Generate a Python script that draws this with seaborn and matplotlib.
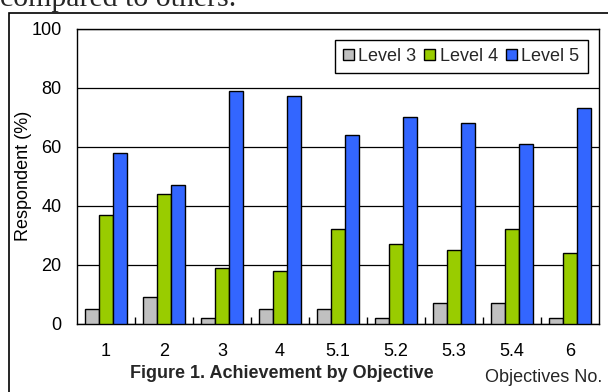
import matplotlib
matplotlib.use("Agg")
import matplotlib.pyplot as plt
import seaborn as sns
import pandas as pd
from matplotlib.patches import Rectangle

# Survey results: share of respondents per achievement level, by objective
objectives = ["1", "2", "3", "4", "5.1", "5.2", "5.3", "5.4", "6"]
level3 = [5, 9, 2, 5, 5, 2, 7, 7, 2]
level4 = [37, 44, 19, 18, 32, 27, 25, 32, 24]
level5 = [58, 47, 79, 77, 64, 70, 68, 61, 73]
levels = ["Level 3", "Level 4", "Level 5"]
colors = ["#c0c0c0", "#99cc00", "#3366ff"]
y_ticks = [0, 20, 40, 60, 80, 100]

rows = []
for name, vals in zip(levels, [level3, level4, level5]):
    for obj, v in zip(objectives, vals):
        rows.append({"Objective": obj, "Level": name, "Respondent": v})
df = pd.DataFrame(rows)

sns.set_theme(style="white")
plt.rcParams["font.family"] = ["Liberation Sans", "DejaVu Sans"]

fig = plt.figure(figsize=(6.08, 3.92), dpi=100)
ax = fig.add_axes([77 / 608, 1 - 324 / 392, 522 / 608, 295.5 / 392])

sns.barplot(data=df, x="Objective", y="Respondent", hue="Level",
            order=objectives, hue_order=levels, palette=colors,
            width=0.72, edgecolor="black", linewidth=1.0,
            saturation=1, errorbar=None, ax=ax, zorder=3)

ax.set_ylim(0, 100)
ax.set_xlim(-0.5, len(objectives) - 0.5)
ax.set_yticks(y_ticks)
ax.yaxis.grid(True, color="black", linewidth=0.9, zorder=0)
ax.set_axisbelow(True)
for s in ax.spines.values():
    s.set_visible(True)
    s.set_color("black")
    s.set_linewidth(1.0)

ax.tick_params(axis="y", length=0, pad=11, labelsize=13, labelcolor="black")
ax.tick_params(axis="x", which="major", length=0, pad=13.5, labelsize=13,
               labelcolor="black")
ax.set_xticks([i + 0.5 for i in range(len(objectives) - 1)], minor=True)
ax.tick_params(axis="x", which="minor", direction="in", length=5,
               width=1, color="black", bottom=True)

ax.set_xlabel("")
ax.set_ylabel("Respondent (%)", fontsize=13, color="black")
ax.yaxis.set_label_coords(-0.086, 0.5)

leg = ax.legend(loc="upper right", bbox_to_anchor=(0.978, 0.962), ncol=3,
                fontsize=13, frameon=True, fancybox=False, framealpha=1,
                edgecolor="black", handlelength=0.6, handleheight=0.6,
                handletextpad=0.25, columnspacing=0.45, borderpad=0.45,
                borderaxespad=0)
leg.get_frame().set_linewidth(1.0)

fig.text(282 / 608, 1 - 373 / 392, "Figure 1. Achievement by Objective",
         ha="center", va="center", fontsize=13, fontweight="bold")
fig.text(485 / 608, 1 - 378 / 392, "Objectives No.", ha="left",
         va="center", fontsize=13)

# surrounding frame and the line of body text above it
fig.patches.append(Rectangle((8.5 / 608, -0.1), 1.2, 1 - 13.5 / 392 + 0.1,
                             transform=fig.transFigure, fill=False,
                             edgecolor="black", linewidth=1.2))
fig.text(0 / 608, 1 - 5.5 / 392, "compared to others.", ha="left",
         va="baseline", fontsize=21.5, family=["Liberation Serif"])

fig.savefig("out.png", dpi=100)
